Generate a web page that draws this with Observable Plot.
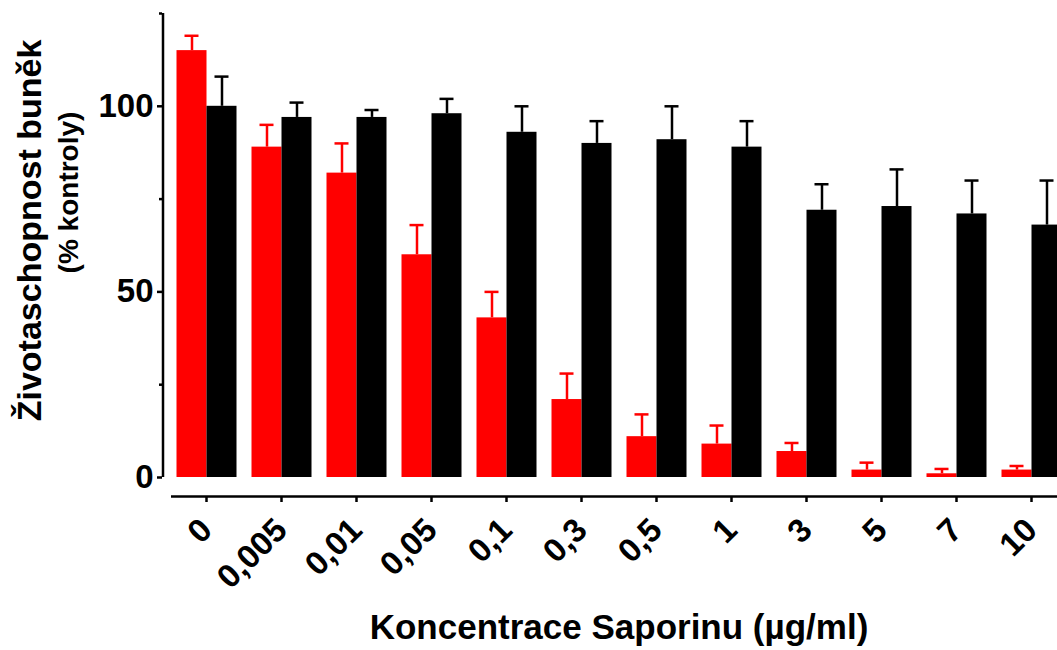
<!DOCTYPE html>
<html>
<head>
<meta charset="utf-8">
<script src="https://cdn.jsdelivr.net/npm/d3@7"></script>
<script src="https://cdn.jsdelivr.net/npm/@observablehq/plot@0.6"></script>
<style>
  html, body { margin: 0; padding: 0; background: #fff; overflow: hidden; }
  #chart svg { font-family: "Liberation Sans", Arial, Helvetica, sans-serif; }
  #chart g[aria-label="fx-axis label"] { font-size: 35px; }
</style>
</head>
<body>
<div id="chart"></div>
<script>
// Saporin concentrations (µg/ml), as printed on the x axis
const concentrations = ["0", "0,005", "0,01", "0,05", "0,1", "0,3", "0,5", "1", "3", "5", "7", "10"];
const seriesKeys = ["saporin", "control"];
const seriesColors = ["#ff0000", "#000000"];

// Cell viability (% of control): mean and upper error per concentration
const saporinMean = [115, 89, 82, 60, 43, 21, 11, 9, 7, 2, 1, 2];
const saporinErr  = [4, 6, 8, 8, 7, 7, 6, 5, 2.3, 2, 1.3, 1.1];
const controlMean = [100, 97, 97, 98, 93, 90, 91, 89, 72, 73, 71, 68];
const controlErr  = [8, 4, 2, 4, 7, 6, 9, 7, 7, 10, 9, 12];

const yTicks = [0, 50, 100];
const yMinorTicks = [25, 75, 125];
const xTitle = "Koncentrace Saporinu (µg/ml)";
const yTitleLines = ["Životaschopnost buněk", "(% kontroly)"];

const rows = concentrations.flatMap((c, i) => [
  {concentration: c, series: "saporin", value: saporinMean[i], err: saporinErr[i]},
  {concentration: c, series: "control", value: controlMean[i], err: controlErr[i]}
]);

// marks that belong only to the first group (used for the y axis line and title)
const firstGroup = [{concentration: concentrations[0]}];

const plot = Plot.plot({
  width: 1057,
  height: 650,
  marginTop: 13,
  marginBottom: 173,
  marginLeft: 167.5,
  marginRight: -13,
  fx: {domain: concentrations, paddingInner: 0.2, paddingOuter: 0.1, label: null},
  x: {domain: seriesKeys, padding: 0, axis: null},
  y: {domain: [0, 125], label: null},
  color: {domain: seriesKeys, range: seriesColors},
  marks: [
    Plot.barY(rows, {fx: "concentration", x: "series", y: "value", fill: "series"}),
    // error bars (upper only)
    Plot.ruleX(rows, {fx: "concentration", x: "series", y1: "value", y2: d => d.value + d.err,
      stroke: "series", strokeWidth: 2.5}),
    Plot.tickY(rows, {fx: "concentration", x: "series", y: d => d.value + d.err,
      stroke: "series", strokeWidth: 2.5, insetLeft: 8, insetRight: 8}),
    // y axis
    Plot.ruleX(firstGroup, {fx: "concentration", x: () => "saporin", y1: 0, y2: 125,
      dx: -29, stroke: "#000", strokeWidth: 2.5}),
    Plot.axisY({ticks: yTicks, tickSize: 5, tickPadding: 4, dx: -14, fontSize: 33,
      fontWeight: "bold", strokeWidth: 2.5, label: null}),
    Plot.axisY({ticks: yMinorTicks, tickSize: 3, dx: -14, tickFormat: () => "",
      strokeWidth: 2.5, label: null}),
    // detached x axis line
    Plot.ruleY([0], {dy: 19, insetLeft: -5, insetRight: -10, stroke: "#000", strokeWidth: 2.5}),
    Plot.axisFx({anchor: "bottom", tickSize: 6, tickPadding: 22, tickRotate: -45, dy: 19,
      fontSize: 33, fontWeight: "bold", strokeWidth: 2.5,
      label: xTitle, labelAnchor: "center", labelOffset: 161}),
    // y axis title, two lines
    Plot.text(firstGroup, {fx: "concentration", text: () => yTitleLines[0], frameAnchor: "left",
      rotate: -90, textAnchor: "middle", lineAnchor: "top", dx: -160, dy: -15,
      fontSize: 34, fontWeight: "bold"}),
    Plot.text(firstGroup, {fx: "concentration", text: () => yTitleLines[1], frameAnchor: "left",
      rotate: -90, textAnchor: "middle", lineAnchor: "top", dx: -118, dy: -53,
      fontSize: 28, fontWeight: "bold"})
  ]
});

document.getElementById("chart").append(plot);
</script>
</body>
</html>
